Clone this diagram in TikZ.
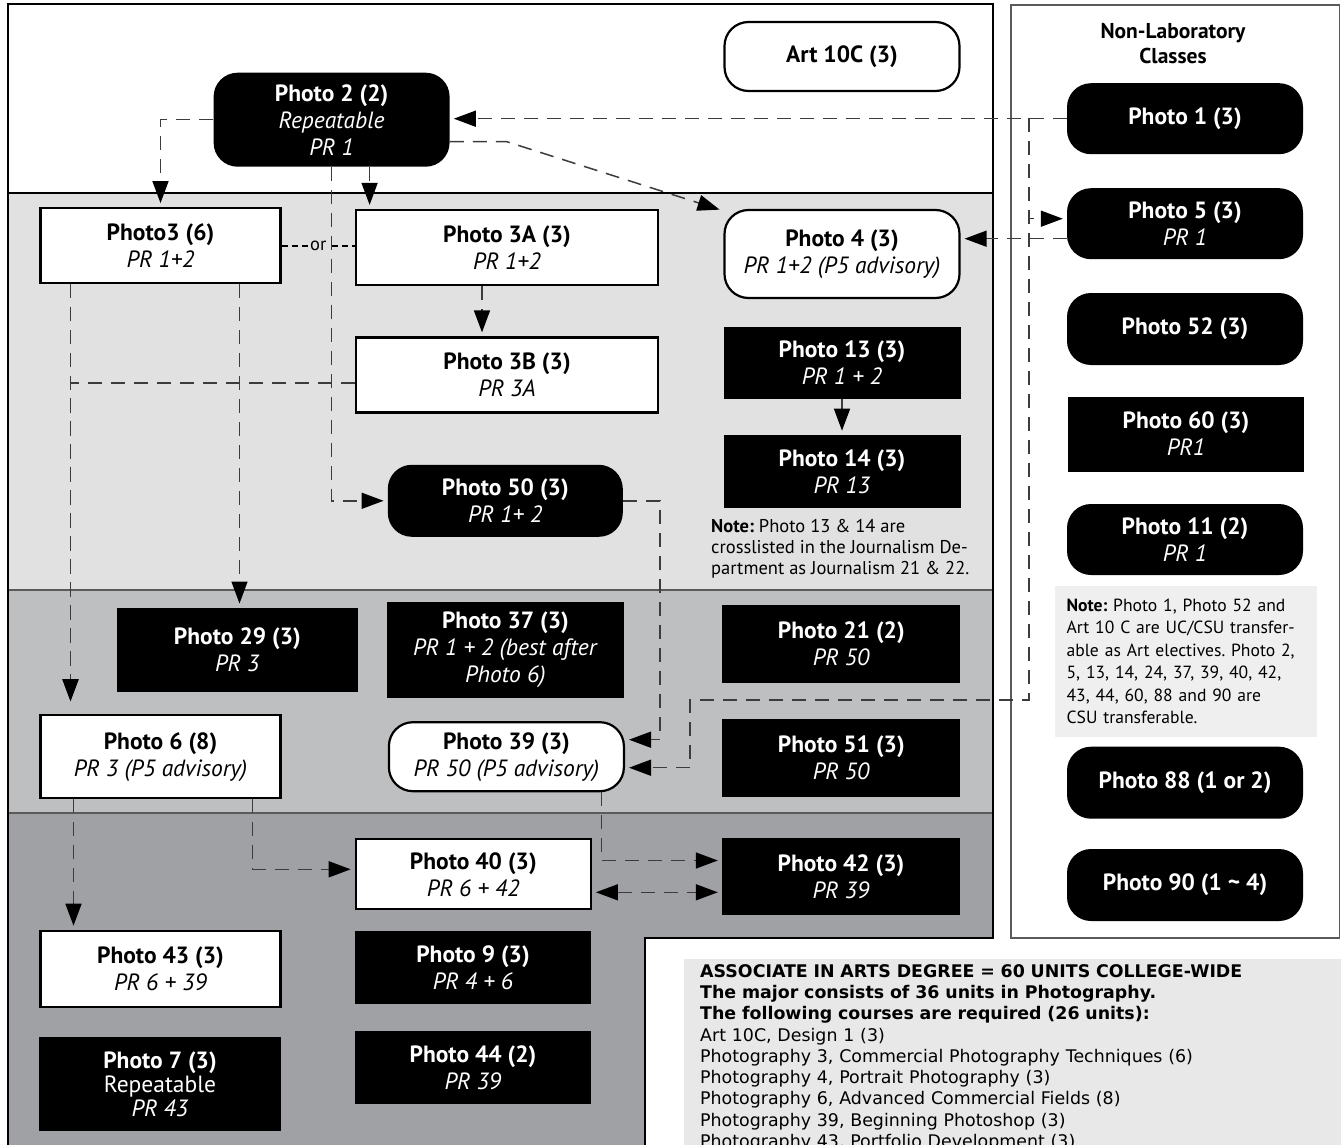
\documentclass[tikz,border=0pt]{standalone}
\usepackage{fontspec}
\setmainfont{PT Sans}
\newfontfamily\degreefamily{DejaVu Sans}
\usetikzlibrary{arrows.meta,calc}
\frenchspacing

\definecolor{bandA}{HTML}{E1E1E1}
\definecolor{bandB}{HTML}{BEBFC1}
\definecolor{bandC}{HTML}{A0A1A5}
\definecolor{notegray}{HTML}{EFEFEF}
\definecolor{degreegray}{HTML}{E8E8E8}
\definecolor{linkgray}{HTML}{3C3C3C}
\definecolor{rulegray}{HTML}{5A5A5A}

\newcommand{\boxfont}{\fontsize{23.5}{27}\selectfont}
\newcommand{\notefont}{\fontsize{18.5}{21}\selectfont}
\newcommand{\sidenotefont}{\fontsize{17.6}{22.5}\selectfont}
\newcommand{\headfont}{\fontsize{21.5}{25}\selectfont\bfseries}
\newcommand{\degreefont}{\degreefamily\fontsize{17.4}{21.3}\selectfont}

\tikzset{
  course/.style={inner sep=0pt, align=center, font=\boxfont, minimum width=236pt},
  blackbox/.style={course, fill=black, text=white},
  blackround/.style={blackbox, rounded corners=24pt},
  whitebox/.style={course, fill=white, draw=black, line width=2.2pt},
  whiteround/.style={whitebox, rounded corners=24pt},
  prereq/.style={draw=linkgray, line width=1.5pt, dash pattern=on 14pt off 9pt,
    -{Triangle[length=22pt,width=16pt,color=black]}, shorten >=4pt},
  prereqboth/.style={prereq, {Triangle[length=22pt,width=16pt,color=black]}-{Triangle[length=22pt,width=16pt,color=black]}, shorten <=4pt},
  orlink/.style={draw=black, line width=2pt, dash pattern=on 6pt off 4pt},
  orlabel/.style={fill=bandA, inner sep=2pt, font=\notefont}
}

\begin{document}
\begin{tikzpicture}[x=1pt, y=-1pt]

\useasboundingbox (0,0) rectangle (1341,1145);

\fill[bandA] (8,193) rectangle (993,590);
\fill[bandB] (8,590) rectangle (993,813);
\fill[bandC] (8,813) -- (993,813) -- (993,938) -- (645,938) -- (645,1150) -- (8,1150) -- cycle;
\draw[rulegray, line width=2pt] (8,590) -- (993,590) (8,813) -- (993,813);
\draw[line width=1.2pt] (8,193) -- (993,193);
\draw[line width=1.2pt] (8,1150) -- (8,4) -- (993,4) -- (993,938) -- (645,938) -- (645,1150);
\draw[rulegray, line width=1.5pt, fill=white] (1011,5) rectangle (1339.5,938);

\node[font=\headfont, align=center] (nonlab) at (1173,44) {Non-Laboratory\\Classes};

\node[whiteround, minimum width=235pt, minimum height=69pt] (art10c) at (842,56.5) {\textbf{Art 10C (3)}};
\node[blackround, minimum height=94pt] (ph2) at (331.6,119.7) {\textbf{Photo 2 (2)}\\\textit{Repeatable}\\\textit{PR 1}};
\node[whitebox, minimum width=240pt, minimum height=75pt] (ph3) at (160.5,245.7) {\textbf{Photo3 (6)}\\\textit{PR 1+2}};
\node[whitebox, minimum width=302pt, minimum height=75pt] (ph3a) at (507,247.5) {\textbf{Photo 3A (3)}\\\textit{PR 1+2}};
\node[whiteround, minimum width=235pt, minimum height=88pt] (ph4) at (842,254) {\textbf{Photo 4 (3)}\\\textit{PR 1+2 (P5 advisory)}};
\node[whitebox, minimum width=302pt, minimum height=75pt] (ph3b) at (507,375) {\textbf{Photo 3B (3)}\\\textit{PR 3A}};
\node[blackbox, minimum width=237pt, minimum height=72pt] (ph13) at (842,363) {\textbf{Photo 13 (3)}\\\textit{PR 1 + 2}};
\node[blackbox, minimum width=237pt, minimum height=73pt] (ph14) at (842,471.4) {\textbf{Photo 14 (3)}\\\textit{PR 13}};
\node[blackround, minimum width=235pt, minimum height=72pt] (ph50) at (505.3,500.8) {\textbf{Photo 50 (3)}\\\textit{PR 1+ 2}};

\node[anchor=north west, inner sep=0pt, align=left, font=\notefont] (jnote) at (711,519) {\textbf{Note:} Photo 13 \& 14 are\\crosslisted in the Journalism De-\\partment as Journalism 21 \& 22.};

\node[blackbox, minimum width=241pt, minimum height=84pt] (ph29) at (237.4,649.7) {\textbf{Photo 29 (3)}\\\textit{PR 3}};
\node[blackbox, minimum width=237pt, minimum height=96pt] (ph37) at (505.4,649.8) {\textbf{Photo 37 (3)}\\\textit{PR 1 + 2 (best after}\\\textit{Photo 6)}};
\node[blackbox, minimum width=238pt, minimum height=78pt] (ph21) at (841.3,643.8) {\textbf{Photo 21 (2)}\\\textit{PR 50}};
\node[whitebox, minimum width=240pt, minimum height=83pt] (ph6) at (160.5,756.7) {\textbf{Photo 6 (8)}\\\textit{PR 3 (P5 advisory)}};
\node[whiteround, minimum width=235pt, minimum height=69pt] (ph39) at (506.4,756.7) {\textbf{Photo 39 (3)}\\\textit{PR 50 (P5 advisory)}};
\node[blackbox, minimum width=238pt, minimum height=78pt] (ph51) at (841.3,757.8) {\textbf{Photo 51 (3)}\\\textit{PR 50}};

\node[whitebox, minimum width=235pt, minimum height=70pt] (ph40) at (473.3,874.3) {\textbf{Photo 40 (3)}\\\textit{PR 6 + 42}};
\node[blackbox, minimum width=238pt, minimum height=77pt] (ph42) at (841,876.5) {\textbf{Photo 42 (3)}\\\textit{PR 39}};
\node[whitebox, minimum width=240pt, minimum height=76pt] (ph43) at (160.5,968.8) {\textbf{Photo 43 (3)}\\\textit{PR 6 + 39}};
\node[blackbox, minimum height=73pt] (ph9) at (473,967.3) {\textbf{Photo 9 (3)}\\\textit{PR 4 + 6}};
\node[blackbox, minimum width=242pt, minimum height=94pt] (ph7) at (160,1083.8) {\textbf{Photo 7 (3)}\\[-3pt]Repeatable\\[-3pt]\textit{PR 43}};
\node[blackbox, minimum height=73pt] (ph44) at (473,1067.3) {\textbf{Photo 44 (2)}\\\textit{PR 39}};

\node[blackround, minimum height=71pt] (ph1) at (1185,118.7) {\textbf{Photo 1 (3)}};
\node[blackround, minimum height=71pt] (ph5) at (1185,223.7) {\textbf{Photo 5 (3)}\\\textit{PR 1}};
\node[blackround, minimum height=72pt] (ph52) at (1185,329) {\textbf{Photo 52 (3)}};
\node[blackbox, minimum height=75pt] (ph60) at (1186,434) {\textbf{Photo 60 (3)}\\\textit{PR1}};
\node[blackround, minimum height=71pt] (ph11) at (1185,539.5) {\textbf{Photo 11 (2)}\\\textit{PR 1}};
\node[fill=notegray, minimum width=262pt, minimum height=151pt, text width=238pt, inner sep=0pt, align=left, font=\sidenotefont] (cnote) at (1185.6,661.5) {\textbf{Note:} Photo 1, Photo 52 and\\Art 10 C are UC/CSU transfer-\\able as Art electives. Photo 2,\\5, 13, 14, 24, 37, 39, 40, 42,\\43, 44, 60, 88 and 90 are\\CSU transferable.};
\node[blackround, minimum height=72pt] (ph88) at (1185,782.7) {\textbf{Photo 88 (1 or 2)}};
\node[blackround, minimum height=72pt] (ph90) at (1185,885) {\textbf{Photo 90 (1 \textasciitilde{} 4)}};

\node[anchor=north west, fill=degreegray, inner xsep=16pt, inner ysep=5pt, text width=640pt, align=left, font=\degreefont] (degree) at (684,959) {\textbf{ASSOCIATE IN ARTS DEGREE = 60 UNITS COLLEGE-WIDE}\\\textbf{The major consists of 36 units in Photography.}\\\textbf{The following courses are required (26 units):}\\Art 10C, Design 1 (3)\\Photography 3, Commercial Photography Techniques (6)\\Photography 4, Portrait Photography (3)\\Photography 6, Advanced Commercial Fields (8)\\Photography 39, Beginning Photoshop (3)\\Photography 43, Portfolio Development (3)};

\coordinate (jct) at (1029,118);

\draw[prereq] (ph1.west) -- (ph1.west -| ph2.east);
\draw[prereq] (jct) |- ([yshift=5pt]ph5.west);
\draw[prereq] (jct) |- (690,700) |- ([yshift=-11pt]ph39.east);
\draw[prereq] ([yshift=-15pt]ph5.west) -- ([yshift=-15pt]ph5.west -| ph4.east);

\draw[prereq] (ph2.west) -| (ph3.north);
\draw[prereq] ([xshift=38pt]ph2.south) -- ([xshift=38pt]ph2.south |- ph3a.north);
\draw[prereq] (ph2.south) |- (ph50.west);
\draw[prereq] ([yshift=-22pt]ph2.east) -- ++(57,0) -- (ph4.160);

\draw[orlink] (ph3.east) -- node[orlabel] {or} (ph3.east -| ph3a.west);
\draw[prereq] ([xshift=-25pt]ph3a.south) -- ([xshift=-25pt]ph3b.north);
\draw[prereq] (ph13.south) -- (ph14.north);

\draw[prereq] ([xshift=79pt]ph3.south) -- ([xshift=79pt]ph3.south |- ph29.north);
\draw[prereq, shorten >=13pt] ([xshift=-90pt]ph3.south) -- ([xshift=-90pt]ph6.north);
\draw[prereq, shorten >=13pt] ([yshift=-8pt]ph3b.west) -| ([xshift=-90pt]ph6.north);
\draw[prereq] (ph50.east) -- ++(37,0) |- ([yshift=17pt]ph39.east);

\draw[prereq] ([xshift=-87pt]ph6.south) -- ([xshift=-87pt]ph43.north);
\draw[prereq] ([xshift=92pt]ph6.south) |- ([yshift=5pt]ph40.west);
\draw[prereq] ([xshift=95pt]ph39.south) |- ([yshift=16pt]ph42.west);
\draw[prereqboth] ([yshift=-18pt]ph40.east) -- ([yshift=-18pt]ph40.east -| ph42.west);

\end{tikzpicture}
\end{document}
